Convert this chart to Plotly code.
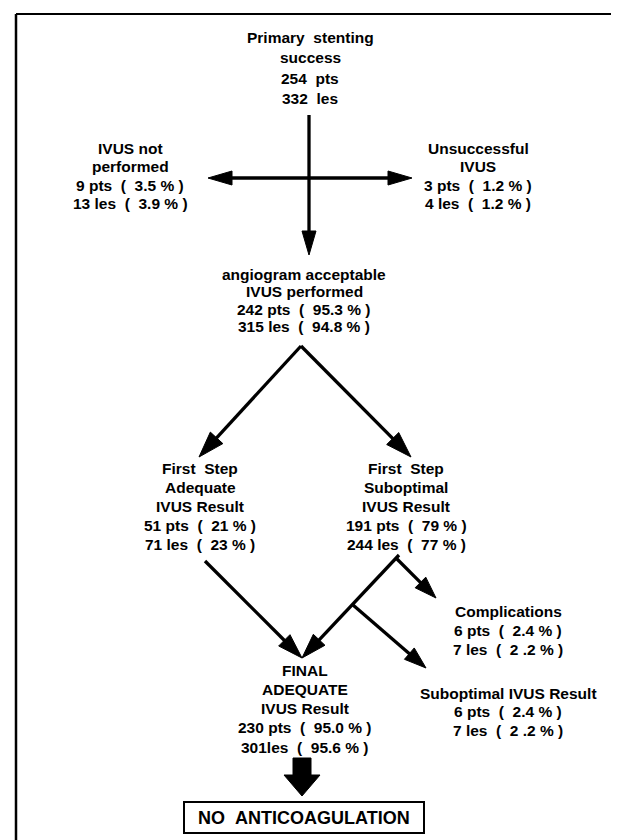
import math
import plotly.graph_objects as go

# ── Flowchart content ─────────────────────────────────────────────────────────

node_ids = ['start', 'not_done', 'failed', 'ivus', 'adequate', 'subopt',
            'complic', 'final', 'subopt_res']

node_titles = [
    ['Primary  stenting', 'success'],
    ['IVUS not', 'performed'],
    ['Unsuccessful', 'IVUS'],
    ['angiogram acceptable', 'IVUS performed'],
    ['First  Step', 'Adequate', 'IVUS Result'],
    ['First  Step', 'Suboptimal', 'IVUS Result'],
    ['Complications'],
    ['FINAL', 'ADEQUATE', 'IVUS Result'],
    ['Suboptimal IVUS Result'],
]

pts     = [254, 9, 3, 242, 51, 191, 6, 230, 6]
les     = [332, 13, 4, 315, 71, 244, 7, 301, 7]
pts_pct = ['', '3.5', '1.2', '95.3', '21', '79', '2.4', '95.0', '2.4']
les_pct = ['', '3.9', '1.2', '94.8', '23', '77', '2 .2', '95.6', '2 .2']

# (from, to) arrows of the chart
edges = [('start', 'ivus'), ('start', 'not_done'), ('start', 'failed'),
         ('ivus', 'adequate'), ('ivus', 'subopt'),
         ('adequate', 'final'), ('subopt', 'final'),
         ('subopt', 'complic'), ('subopt', 'subopt_res')]

final_label = 'NO  ANTICOAGULATION'

# ── Layout (pixel space, y downwards) ─────────────────────────────────────────

# node centre x, first line y, line step
NODE_POS = {
    'start':      (302, 29, 20.5),
    'not_done':   (122, 140, 18.5),
    'failed':     (470, 140, 18.5),
    'ivus':       (296, 266, 17.5),
    'adequate':   (192, 460, 19),
    'subopt':     (398, 460, 19),
    'complic':    (500, 603, 19),
    'final':      (297, 662, 19.3),
    'subopt_res': (500, 685, 18.5),
}

# arrow start / end points and head size (length, half width) for each edge
EDGE_POS = {
    ('start', 'ivus'):          ((301, 107), (301, 247), 24, 7),
    ('start', 'not_done'):      ((301, 170), (200, 170), 24, 7),
    ('start', 'failed'):        ((301, 170), (404, 170), 24, 7),
    ('ivus', 'adequate'):       ((293, 338), (191, 449), 26, 8.5),
    ('ivus', 'subopt'):         ((293, 338), (403, 449), 26, 8.5),
    ('adequate', 'final'):      ((197, 553), (294, 650), 25, 8),
    ('subopt', 'final'):        ((391, 547), (294, 650), 25, 8),
    ('subopt', 'complic'):      ((389, 551), (428, 590), 22, 7.5),
    ('subopt', 'subopt_res'):   ((345, 597), (418, 660), 22, 7.5),
}

W, H = 619, 840
FONT = 'Liberation Sans, Arial, sans-serif'

fig = go.Figure()
shapes = []
annotations = []


def count_line(n, word, pct):
    if pct == '':
        return f'{n}  {word}'
    return f'{n} {word}  (  {pct} % )'


def add_arrow(p0, p1, head_len=22, head_w=7, lw=3.3):
    (x0, y0), (x1, y1) = p0, p1
    d = math.hypot(x1 - x0, y1 - y0)
    ux, uy = (x1 - x0) / d, (y1 - y0) / d
    bx, by = x1 - ux * head_len, y1 - uy * head_len
    shapes.append(dict(type='line', x0=x0, y0=y0, x1=bx + ux * 2, y1=by + uy * 2,
                       line=dict(color='black', width=lw)))
    px_, py_ = -uy * head_w, ux * head_w
    shapes.append(dict(
        type='path',
        path=f'M {x1},{y1} L {bx + px_},{by + py_} L {bx - px_},{by - py_} Z',
        fillcolor='black', line=dict(color='black', width=1)))


for i, nid in enumerate(node_ids):
    cx, y0, step = NODE_POS[nid]
    lines = list(node_titles[i])
    lines.append(count_line(pts[i], 'pts', pts_pct[i]))
    lines.append(count_line(les[i], 'les', les_pct[i]))
    if nid == 'final':
        lines[-1] = lines[-1].replace(f'{les[i]} les', f'{les[i]}les')
    for k, txt in enumerate(lines):
        annotations.append(dict(
            x=cx, y=y0 + k * step, text=txt.replace('  ', '\u00a0\u00a0'),
            showarrow=False, xanchor='center', yanchor='middle',
            font=dict(family=FONT, size=15.5, color='black', weight=700)))

for e in edges:
    p0, p1, hl, hw = EDGE_POS[e]
    add_arrow(p0, p1, hl, hw)

# block arrow into the final box
bx, by = 294, 750
shapes.append(dict(
    type='path',
    path=(f'M {bx-9},{by} L {bx+9},{by} L {bx+9},{by+17} L {bx+18},{by+17} '
          f'L {bx},{by+38} L {bx-18},{by+17} L {bx-9},{by+17} Z'),
    fillcolor='black', line=dict(color='black', width=1)))

# final box
shapes.append(dict(type='rect', x0=176, x1=416, y0=794, y1=825,
                   line=dict(color='black', width=2), fillcolor='white'))
annotations.append(dict(
    x=296, y=810, text=final_label.replace('  ', '\u00a0\u00a0'),
    showarrow=False, xanchor='center', yanchor='middle',
    font=dict(family=FONT, size=18, color='black', weight=700)))

# scanned page border (left and top edges)
shapes.append(dict(type='line', x0=8, y0=6, x1=8, y1=H,
                   line=dict(color='black', width=2.5)))
shapes.append(dict(type='line', x0=8, y0=6, x1=W, y1=6,
                   line=dict(color='black', width=2)))

fig.update_layout(
    width=W, height=H,
    margin=dict(l=0, r=0, t=0, b=0),
    paper_bgcolor='white', plot_bgcolor='white',
    xaxis=dict(range=[0, W], visible=False, fixedrange=True),
    yaxis=dict(range=[H, 0], visible=False, fixedrange=True),
    shapes=shapes, annotations=annotations,
    showlegend=False,
)

fig.write_html('out.html')
